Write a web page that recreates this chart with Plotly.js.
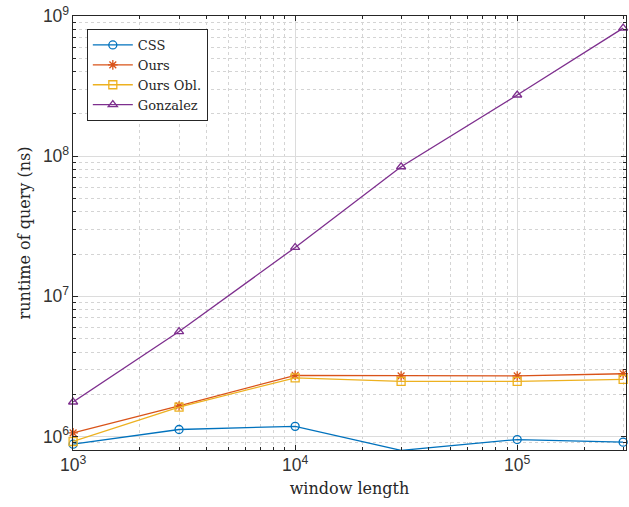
<!DOCTYPE html>
<html>
<head>
<meta charset="utf-8">
<script src="https://cdn.plot.ly/plotly-3.0.1.min.js"></script>
<style>
  html, body { margin: 0; padding: 0; background: #ffffff; }
  #chart { width: 629px; height: 507px; }
</style>
</head>
<body>
<div id="chart"></div>
<script>
// Query runtime (ns) against sliding-window length, log-log.
const windowLengths   = [1e3, 3e3, 1e4, 3e4, 1e5, 3e5];
const cssRuntime      = [8.8e5, 1.12e6, 1.18e6, 7.95e5, 9.5e5, 9.1e5];
const oursRuntime     = [1.06e6, 1.65e6, 2.73e6, 2.70e6, 2.70e6, 2.80e6];
const oursOblRuntime  = [9.2e5, 1.62e6, 2.62e6, 2.47e6, 2.47e6, 2.55e6];
const gonzalezRuntime = [1.76e6, 5.6e6, 2.23e7, 8.4e7, 2.73e8, 8.2e8];

const seriesNames   = ['CSS', 'Ours', 'Ours Obl.', 'Gonzalez'];
const seriesValues  = [cssRuntime, oursRuntime, oursOblRuntime, gonzalezRuntime];
const seriesColors  = ['#0072BD', '#D95319', '#EDB120', '#7E2F8E'];
const seriesSymbols = ['circle-open', 'asterisk-open', 'square-open', 'triangle-up-open'];

const traces = seriesNames.map((name, i) => ({
  type: 'scatter',
  mode: 'lines+markers',
  name: name,
  x: windowLengths,
  y: seriesValues[i],
  cliponaxis: false,
  line: { color: seriesColors[i], width: 1.3 },
  marker: {
    symbol: seriesSymbols[i],
    size: 8,
    color: seriesColors[i],
    line: { color: seriesColors[i], width: 1.3 }
  }
}));

const axisInk = '#262626';
const tickFont = { family: 'Liberation Sans, Arial, sans-serif', size: 14, color: '#333333' };
const titleFont = { family: 'DejaVu Serif, serif', size: 16, color: axisInk };

const commonAxis = {
  type: 'log',
  dtick: 1,
  exponentformat: 'power',
  showexponent: 'all',
  showline: true,
  mirror: 'allticks',
  linecolor: axisInk,
  linewidth: 1,
  ticks: 'inside',
  ticklen: 5,
  tickwidth: 1,
  tickcolor: axisInk,
  tickfont: tickFont,
  showgrid: true,
  gridcolor: '#dcdcdc',
  gridwidth: 1,
  zeroline: false,
  minor: {
    dtick: 'D1',
    ticks: 'inside',
    ticklen: 3,
    tickcolor: axisInk,
    showgrid: true,
    gridcolor: '#d4d4d4',
    griddash: 'dot',
    gridwidth: 1
  }
};

const layout = {
  width: 629,
  height: 507,
  margin: { l: 73, r: 3, t: 16, b: 57 },
  paper_bgcolor: '#ffffff',
  plot_bgcolor: '#ffffff',
  showlegend: true,
  legend: {
    x: 0.025, y: 0.97,
    xanchor: 'left', yanchor: 'top',
    bgcolor: '#ffffff',
    bordercolor: axisInk,
    borderwidth: 1,
    itemwidth: 40,
    font: { family: 'DejaVu Serif, serif', size: 13, color: axisInk },
    tracegroupgap: 0
  },
  xaxis: Object.assign({}, commonAxis, {
    range: [2.9995, 5.49],
    title: { text: 'window length', font: titleFont, standoff: 8 }
  }),
  yaxis: Object.assign({}, commonAxis, {
    range: [Math.log10(8e5), 9],
    title: { text: 'runtime of query (ns)', font: titleFont, standoff: 8 }
  })
};

Plotly.newPlot('chart', traces, layout, { staticPlot: true, displayModeBar: false });
</script>
</body>
</html>
